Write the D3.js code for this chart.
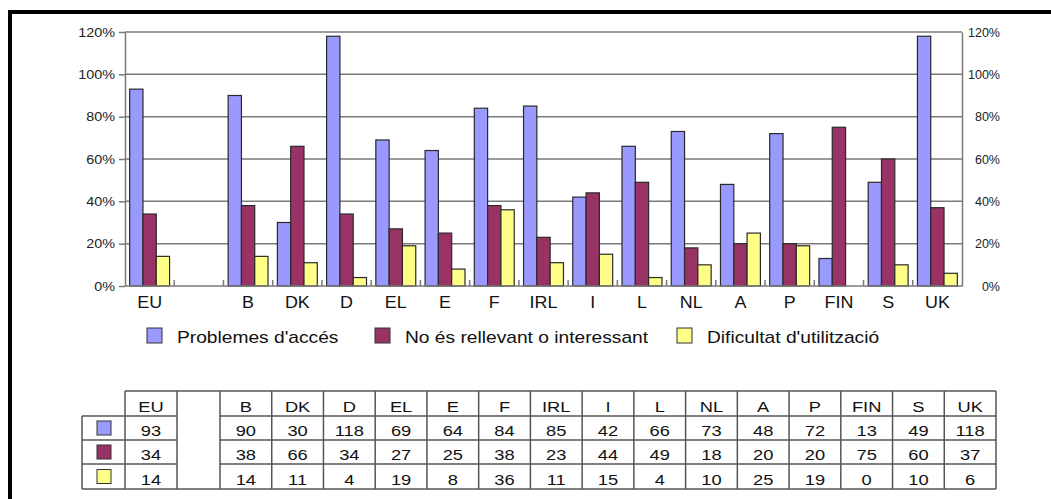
<!DOCTYPE html>
<html>
<head>
<meta charset="utf-8">
<script src="https://cdn.jsdelivr.net/npm/d3@7"></script>
<style>
  body { margin: 0; background: #fff; }
  svg { display: block; font-family: "Liberation Sans", Arial, sans-serif; }
</style>
</head>
<body>
<svg id="chart" width="1051" height="499"></svg>
<script>
// Categories (the empty string is the spacer column between EU and the member states)
const categories = ["EU", "", "B", "DK", "D", "EL", "E", "F", "IRL", "I", "L", "NL", "A", "P", "FIN", "S", "UK"];
const accessProblems = [93, null, 90, 30, 118, 69, 64, 84, 85, 42, 66, 73, 48, 72, 13, 49, 118];
const notRelevant    = [34, null, 38, 66, 34, 27, 25, 38, 23, 44, 49, 18, 20, 20, 75, 60, 37];
const difficultUse   = [14, null, 14, 11, 4, 19, 8, 36, 11, 15, 4, 10, 25, 19, 0, 10, 6];
const seriesNames  = ["Problemes d'accés", "No és rellevant o interessant", "Dificultat d'utilització"];
const seriesColors = ["#9999FF", "#993366", "#FFFF88"];
const yTicks = [0, 20, 40, 60, 80, 100, 120];

const seriesValues = [accessProblems, notRelevant, difficultUse];
const svg = d3.select("#chart");
const GRID = "#7a7a7a";

// text helper: horizontally widened glyphs
function label(parent, x, y, str, opts) {
  const o = Object.assign({ size: 16, sx: 1.15, anchor: "start", fill: "#111" }, opts || {});
  return parent.append("text")
    .attr("transform", `translate(${x},${y}) scale(${o.sx},1)`)
    .attr("text-anchor", o.anchor)
    .attr("font-size", o.size)
    .attr("fill", o.fill)
    .text(str);
}

// outer frame (top and left edges)
svg.append("rect").attr("x", 8).attr("y", 10).attr("width", 1043).attr("height", 4).attr("fill", "#000");
svg.append("rect").attr("x", 8).attr("y", 10).attr("width", 4).attr("height", 489).attr("fill", "#000");

// scales
const plotLeft = 125, plotRight = 962, plotTop = 32, plotBottom = 286;
const x = d3.scaleBand().domain(d3.range(categories.length)).range([plotLeft, plotRight]).padding(0);
const xs = d3.scaleBand().domain([0, 1, 2]).range([0, x.bandwidth()]).paddingInner(0).paddingOuter(0.35);
const y = d3.scaleLinear().domain([0, 120]).range([plotBottom, plotTop]);

// gridlines
svg.append("g").selectAll("line").data(yTicks.filter(d => d > 0)).join("line")
  .attr("x1", plotLeft).attr("x2", plotRight)
  .attr("y1", d => y(d)).attr("y2", d => y(d))
  .attr("stroke", GRID).attr("stroke-width", 1.5);

// left axis
const AXIS_SX = 1.15;
const leftAxis = svg.append("g").attr("transform", `translate(${plotLeft},0)`)
  .call(d3.axisLeft(y).tickValues(yTicks).tickSize(6).tickSizeOuter(0).tickFormat(d => d + "%"));
leftAxis.select(".domain").attr("stroke", GRID).attr("stroke-width", 1.5);
leftAxis.selectAll(".tick line").attr("stroke", GRID).attr("stroke-width", 1.5);
leftAxis.selectAll(".tick text").attr("font-size", 12.5).attr("fill", "#222")
  .attr("font-family", "Liberation Sans, Arial, sans-serif")
  .attr("transform", `scale(${AXIS_SX},1)`).attr("x", -10 / AXIS_SX);

// right axis (labels right-aligned in the margin)
const rightAxis = svg.append("g").attr("transform", `translate(${plotRight},0)`)
  .call(d3.axisRight(y).tickValues(yTicks).tickSize(0).tickSizeOuter(0).tickFormat(d => d + "%"));
rightAxis.select(".domain").attr("stroke", GRID).attr("stroke-width", 1.5);
rightAxis.selectAll(".tick text").attr("font-size", 12.5).attr("fill", "#222")
  .attr("font-family", "Liberation Sans, Arial, sans-serif")
  .attr("text-anchor", "end").attr("x", 38);

// bars
const barGroups = svg.append("g").selectAll("g").data(categories.map((c, i) => i)).join("g")
  .attr("transform", i => `translate(${x(i)},0)`);
barGroups.selectAll("rect")
  .data(i => seriesValues.map((s, k) => ({ k, v: s[i] })).filter(d => d.v != null && d.v > 0))
  .join("rect")
  .attr("x", d => xs(d.k))
  .attr("width", xs.bandwidth())
  .attr("y", d => y(d.v))
  .attr("height", d => y(0) - y(d.v))
  .attr("fill", d => seriesColors[d.k])
  .attr("stroke", "#2a2a2a").attr("stroke-width", 1.2);

// category axis with tick marks between categories
svg.append("line").attr("x1", plotLeft).attr("x2", plotRight)
  .attr("y1", plotBottom).attr("y2", plotBottom)
  .attr("stroke", GRID).attr("stroke-width", 1.6);
svg.append("g").selectAll("line").data(d3.range(1, categories.length)).join("line")
  .attr("x1", i => x(i)).attr("x2", i => x(i))
  .attr("y1", plotBottom).attr("y2", plotBottom - 6)
  .attr("stroke", GRID).attr("stroke-width", 1.5);
const catLabels = svg.append("g");
categories.forEach((c, i) => {
  label(catLabels, x(i) + x.bandwidth() / 2, 308, c, { anchor: "middle", size: 16, sx: 1.12 });
});

// legend
const legendPos = [147, 375, 677];
const legend = svg.append("g");
seriesNames.forEach((name, k) => {
  legend.append("rect").attr("x", legendPos[k]).attr("y", 328).attr("width", 15).attr("height", 15)
    .attr("fill", seriesColors[k]).attr("stroke", "#333").attr("stroke-width", 1);
  label(legend, legendPos[k] + 30, 343, name, { size: 16, sx: 1.2 });
});

// data table
const table = svg.append("g");
const rowEdges = [391, 416, 440, 464, 489];
const keyLeft = 82;
const colEdges = [125, 177, 220];
const restWidth = (996 - 220) / (categories.length - 2);
for (let i = 1; i <= categories.length - 2; i++) colEdges.push(220 + i * restWidth);
const LINE = "#555";

// horizontal rules (spacer column is left open)
table.append("line").attr("x1", colEdges[0]).attr("x2", colEdges[colEdges.length - 1])
  .attr("y1", rowEdges[0]).attr("y2", rowEdges[0]).attr("stroke", LINE).attr("stroke-width", 1.5);
table.append("line").attr("x1", keyLeft).attr("x2", colEdges[colEdges.length - 1])
  .attr("y1", rowEdges[4]).attr("y2", rowEdges[4]).attr("stroke", LINE).attr("stroke-width", 1.5);
[1, 2, 3].forEach(r => {
  table.append("line").attr("x1", keyLeft).attr("x2", colEdges[1])
    .attr("y1", rowEdges[r]).attr("y2", rowEdges[r]).attr("stroke", LINE).attr("stroke-width", 1.5);
  table.append("line").attr("x1", colEdges[2]).attr("x2", colEdges[colEdges.length - 1])
    .attr("y1", rowEdges[r]).attr("y2", rowEdges[r]).attr("stroke", LINE).attr("stroke-width", 1.5);
});
// vertical rules
table.append("line").attr("x1", keyLeft).attr("x2", keyLeft)
  .attr("y1", rowEdges[1]).attr("y2", rowEdges[4]).attr("stroke", LINE).attr("stroke-width", 1.5);
colEdges.forEach(cx => {
  table.append("line").attr("x1", cx).attr("x2", cx)
    .attr("y1", rowEdges[0]).attr("y2", rowEdges[4]).attr("stroke", LINE).attr("stroke-width", 1.5);
});
// key swatches
seriesColors.forEach((col, k) => {
  const cy = (rowEdges[k + 1] + rowEdges[k + 2]) / 2;
  table.append("rect").attr("x", 97).attr("y", cy - 7).attr("width", 14).attr("height", 14)
    .attr("fill", col).attr("stroke", "#333").attr("stroke-width", 1);
});
// cell text
categories.forEach((c, i) => {
  const cx = (colEdges[i] + colEdges[i + 1]) / 2;
  label(table, cx, rowEdges[1] - 4, c, { anchor: "middle", size: 15, sx: 1.22 });
  seriesValues.forEach((s, k) => {
    if (s[i] != null) label(table, cx, rowEdges[k + 2] - 4, String(s[i]), { anchor: "middle", size: 15, sx: 1.22 });
  });
});
</script>
</body>
</html>
